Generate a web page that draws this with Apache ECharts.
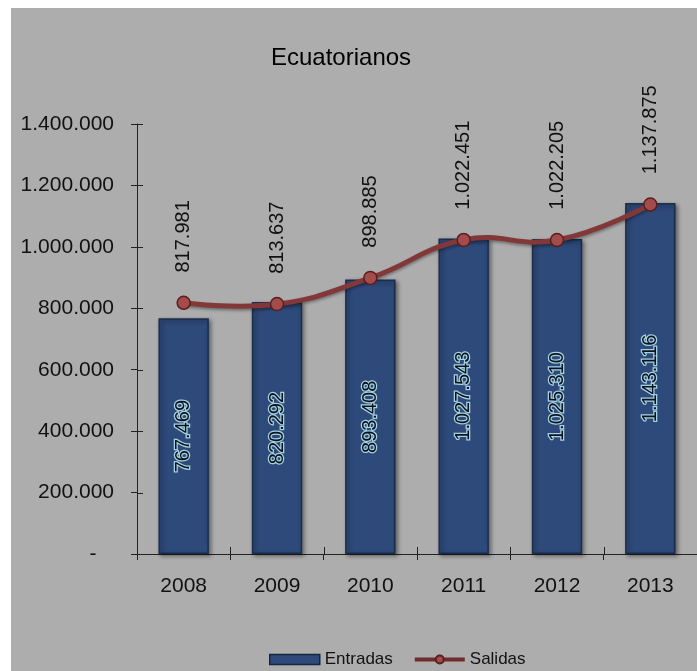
<!DOCTYPE html>
<html>
<head>
<meta charset="utf-8">
<script src="https://cdn.jsdelivr.net/npm/echarts@6/dist/echarts.min.js"></script>
<style>
  html, body { margin: 0; padding: 0; background: #fff; }
  #chart { width: 697px; height: 671px; }
</style>
</head>
<body>
<div id="chart"></div>
<script>
const years = ['2008', '2009', '2010', '2011', '2012', '2013']
const entradas = [767469, 820292, 893408, 1027543, 1025310, 1143116]
const salidas = [817981, 813637, 898885, 1022451, 1022205, 1137875]
const yTicks = [0, 200000, 400000, 600000, 800000, 1000000, 1200000, 1400000]

const fmt = v => String(v).replace(/\B(?=(\d{3})+(?!\d))/g, '.')
const font = 'Liberation Sans, Arial, sans-serif'
const lineColor = '#823838'
const axisColor = '#222'

const chart = echarts.init(document.getElementById('chart'))

const yMin = yTicks[0]
const yMax = yTicks[yTicks.length - 1]
const yStep = yTicks[1] - yTicks[0]

// excel-like spline (no clamping of control points), drawn once through the axes
function renderCurve(params, api) {
  if (params.dataIndex !== 0) return null
  const pts = salidas.map((v, i) => api.coord([i, v]))
  return {
    type: 'polyline',
    shape: { points: pts, smooth: 0.45 },
    style: {
      stroke: lineColor,
      lineWidth: 5,
      fill: null,
      shadowColor: 'rgba(0,0,0,0.35)',
      shadowBlur: 3,
      shadowOffsetY: 2
    }
  }
}

// excel draws ticks crossing the axis: the inner half is added here
function renderInnerTicks(params, api) {
  if (params.dataIndex !== 0) return null
  const band = api.size([1, 0])[0]
  const x0 = api.coord([0, yMin])[0] - band / 2
  const y0 = api.coord([0, yMin])[1]
  const children = []
  yTicks.forEach(v => {
    const y = Math.round(api.coord([0, v])[1]) + 0.5
    children.push({ type: 'line', shape: { x1: x0, y1: y, x2: x0 + 6, y2: y } })
  })
  for (let i = 0; i <= years.length; i++) {
    const x = Math.round(x0 + band * i) + 0.5
    children.push({ type: 'line', shape: { x1: x, y1: y0, x2: x, y2: y0 - 7 } })
  }
  children.forEach(c => { c.style = { stroke: axisColor, lineWidth: 1 } })
  return { type: 'group', children }
}

chart.setOption({
  animation: false,
  backgroundColor: '#ffffff',
  textStyle: { fontFamily: font },
  graphic: [{
    type: 'rect',
    z: -10,
    shape: { x: 11, y: 8, width: 697, height: 671 },
    style: { fill: '#adadad' }
  }],
  title: {
    text: 'Ecuatorianos',
    left: 266,
    top: 41,
    textStyle: { fontFamily: font, fontSize: 24, fontWeight: 'normal', color: '#000' }
  },
  legend: {
    left: 264,
    top: 646,
    itemWidth: 50,
    itemHeight: 10,
    itemGap: 20,
    textStyle: { fontFamily: font, fontSize: 17, color: '#111' },
    lineStyle: { opacity: 1, color: '#6e2c2c', width: 4 },
    data: [
      { name: 'Entradas', icon: 'rect', itemStyle: { borderColor: '#16253f', borderWidth: 1.5 } },
      { name: 'Salidas' }
    ]
  },
  grid: { left: 137, right: -5, top: 124, bottom: 117 },
  xAxis: {
    type: 'category',
    data: years,
    axisLine: { lineStyle: { color: axisColor, width: 1 } },
    axisTick: { show: true, length: 6, lineStyle: { color: axisColor } },
    axisLabel: { fontSize: 21, color: '#111', margin: 22 }
  },
  yAxis: {
    type: 'value',
    min: yMin,
    max: yMax,
    interval: yStep,
    axisLine: { show: true, lineStyle: { color: axisColor } },
    axisTick: { show: true, length: 6, lineStyle: { color: axisColor } },
    splitLine: { show: false },
    axisLabel: {
      fontSize: 21,
      color: '#111',
      margin: 23,
      formatter: v => v === 0 ? '-   ' : fmt(v)
    }
  },
  series: [{
    name: 'Entradas',
    type: 'bar',
    data: entradas,
    barWidth: '54%',
    itemStyle: {
      color: '#2d4a7a',
      borderColor: '#1b2d4c',
      borderWidth: 1.5,
      shadowColor: 'rgba(0,0,0,0.45)',
      shadowBlur: 4,
      shadowOffsetX: 2,
      shadowOffsetY: 2
    },
    label: {
      show: true,
      position: 'inside',
      rotate: 90,
      fontSize: 20,
      color: '#08111c',
      textBorderColor: '#a6d2e0',
      textBorderWidth: 2.5,
      formatter: p => fmt(p.value)
    }
  }, {
    name: 'ticks',
    type: 'custom',
    data: yTicks,
    z: 1,
    silent: true,
    renderItem: renderInnerTicks
  }, {
    name: 'SalidasCurve',
    type: 'custom',
    data: salidas,
    z: 3,
    silent: true,
    renderItem: renderCurve
  }, {
    name: 'Salidas',
    type: 'line',
    data: salidas,
    z: 4,
    symbol: 'circle',
    symbolSize: 13,
    lineStyle: { opacity: 0 },
    itemStyle: {
      color: '#a44c4c',
      borderColor: '#5a1e1e',
      borderWidth: 1.5
    },
    label: {
      show: true,
      position: 'top',
      distance: 23,
      rotate: 90,
      align: 'left',
      verticalAlign: 'middle',
      fontSize: 20,
      color: '#111',
      formatter: p => fmt(p.value)
    }
  }]
})
</script>
</body>
</html>
